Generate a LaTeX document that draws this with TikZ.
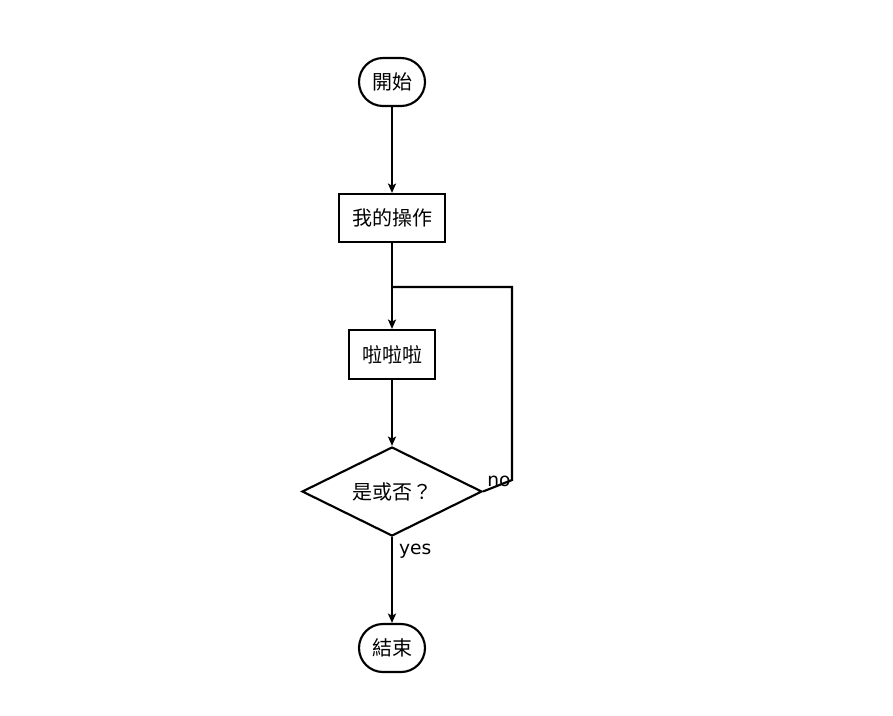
\documentclass[tikz,border=0pt]{standalone}
\usepackage{fontspec}
\newfontfamily\cjk{Noto Sans CJK TC}
\newfontfamily\lbl{DejaVu Sans}
\usetikzlibrary{shapes.geometric,arrows.meta}
\begin{document}
\begin{tikzpicture}[x=0.75pt,y=-0.75pt,
  line width=1.6pt,
  every node/.style={font=\cjk\fontsize{15}{17}\selectfont},
  term/.style={draw,rounded corners=18pt,minimum width=49.5pt,minimum height=36pt,inner sep=0pt},
  proc/.style={draw,minimum height=36pt,inner sep=0pt},
  decis/.style={draw,diamond,aspect=2,minimum width=135pt,minimum height=66.75pt,inner sep=0pt},
  conn/.style={-{Stealth[length=7pt,width=6pt,inset=1.5pt]}},
  lab/.style={font=\lbl\fontsize{14}{16}\selectfont,inner sep=0pt}]
\path[use as bounding box] (0,0) rectangle (893,715);
\node[term] (start) at (392,82) {開始};
\node[proc,minimum width=79.5pt] (op) at (392,218) {我的操作};
\node[proc,minimum width=64.5pt,minimum height=36.75pt] (la) at (392,354.5) {啦啦啦};
\node[decis] (dec) at (392,491.5) {是或否？};
\node[term] (end) at (392,648) {結束};
\coordinate (c1) at (512,480);
\coordinate (c2) at (512,287);
\coordinate (c3) at (392,287);
\draw[conn] (start) -- (op);
\draw[conn] (op) -- (la);
\draw[conn] (la) -- (dec);
\draw[conn] (dec) -- (end);
\draw[line join=miter] (dec.east) -- (c1) -- (c2) -- (c3);
\node[lab] (no) at (499,481) {no};
\node[lab,anchor=west] (yes) at (398,551) {yes};
\end{tikzpicture}
\end{document}
